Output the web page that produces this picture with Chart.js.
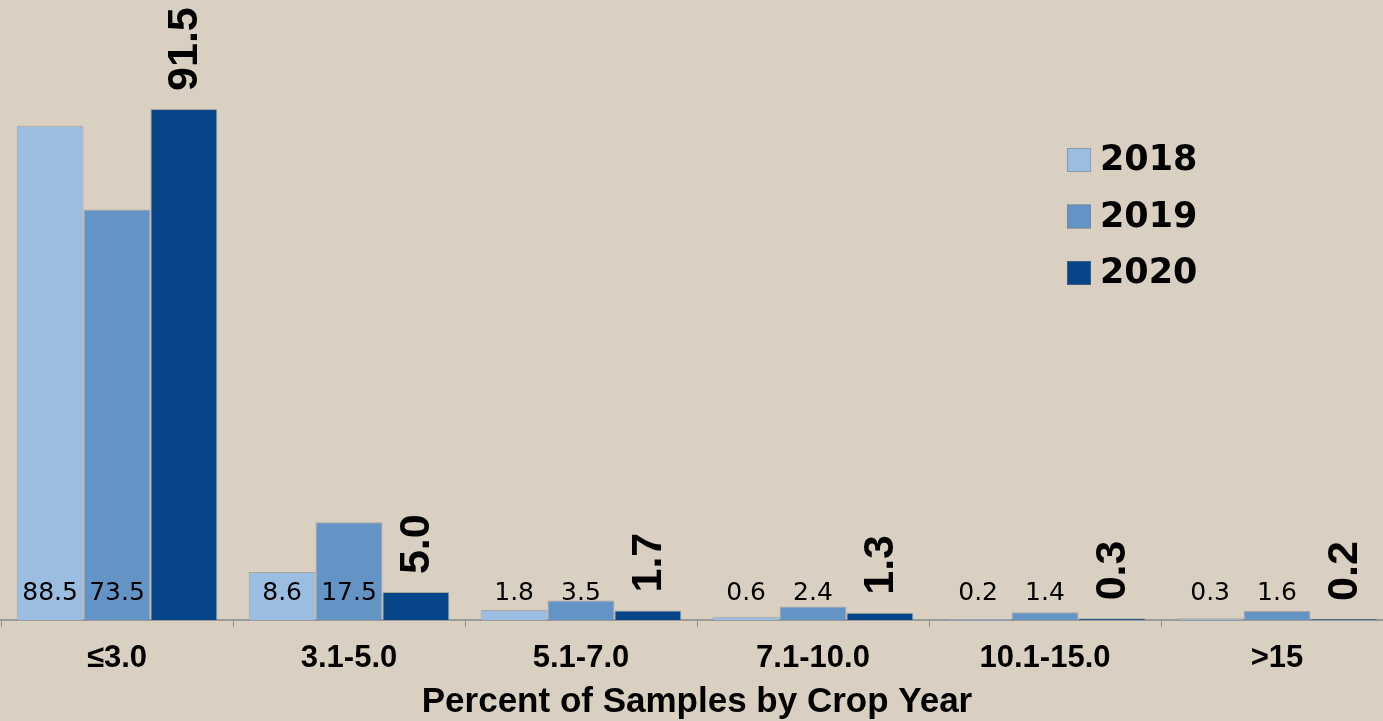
<!DOCTYPE html>
<html>
<head>
<meta charset="utf-8">
<script src="https://cdn.jsdelivr.net/npm/chart.js@4"></script>
<style>
  html, body { margin:0; padding:0; background:#d9d0c1; overflow:hidden; }
  #wrap { width:1395px; height:721px; position:relative; }
</style>
</head>
<body>
<div id="wrap"><canvas id="crop_chart"></canvas></div>
<script>
var categories = ['\u22643.0', '3.1-5.0', '5.1-7.0', '7.1-10.0', '10.1-15.0', '>15'];
var years = ['2018', '2019', '2020'];
var values2018 = [88.5, 8.6, 1.8, 0.6, 0.2, 0.3];
var values2019 = [73.5, 17.5, 3.5, 2.4, 1.4, 1.6];
var values2020 = [91.5, 5.0, 1.7, 1.3, 0.3, 0.2];
var colors = ['#9bbde2', '#6394c5', '#064587'];

// value labels: small ones sit on the axis, 2020 ones are rotated above the bar
var valueLabels = {
    id: 'valueLabels',
    afterDatasetsDraw: function(chart){
        var ctx = chart.ctx;
        var base = chart.scales.y.getPixelForValue(0);
        ctx.save();
        ctx.fillStyle = '#000';
        chart.data.datasets.forEach(function(ds, i){
            var meta = chart.getDatasetMeta(i);
            meta.data.forEach(function(bar, j){
                var txt = ds.data[j].toFixed(1);
                if(i < 2){
                    ctx.font = '25px "DejaVu Sans"';
                    ctx.textAlign = 'center';
                    ctx.textBaseline = 'middle';
                    ctx.fillText(txt, bar.x, base - 27);
                } else {
                    ctx.save();
                    ctx.translate(bar.x + 1, bar.y - 18);
                    ctx.rotate(-Math.PI / 2);
                    ctx.font = 'bold 43px "Liberation Sans"';
                    ctx.textAlign = 'left';
                    ctx.textBaseline = 'middle';
                    ctx.fillText(txt, 0, 0);
                    ctx.restore();
                }
            });
        });
        ctx.restore();
    }
};

// legend drawn inside the plot on the right
var insideLegend = {
    id: 'insideLegend',
    afterDraw: function(chart){
        var ctx = chart.ctx;
        ctx.save();
        chart.data.datasets.forEach(function(ds, i){
            var cy = 160 + i * 56.5;
            ctx.fillStyle = ds.backgroundColor;
            ctx.fillRect(1067, cy - 12, 24, 24);
            ctx.strokeStyle = 'rgba(120,120,120,0.5)';
            ctx.lineWidth = 1;
            ctx.strokeRect(1067.5, cy - 11.5, 23, 23);
            ctx.fillStyle = '#000';
            ctx.font = 'bold 35px "DejaVu Sans"';
            ctx.textAlign = 'left';
            ctx.textBaseline = 'middle';
            ctx.fillText(ds.label, 1100, cy + 1);
        });
        ctx.restore();
    }
};

var series = [values2018, values2019, values2020];
var datasets = [];
for(var i = 0; i < years.length; i++){
    datasets.push({
        label: years[i],
        data: series[i],
        backgroundColor: colors[i],
        borderColor: 'rgba(110,110,110,0.45)',
        borderWidth: 1,
        categoryPercentage: 0.865,
        barPercentage: 1.0
    });
}

var chart = new Chart(document.getElementById('crop_chart'), {
    type: 'bar',
    data: { labels: categories, datasets: datasets },
    options: {
        responsive: true,
        maintainAspectRatio: false,
        animation: false,
        devicePixelRatio: 1,
        layout: { padding: { left: 1, right: 2, top: 0, bottom: 0 } },
        plugins: {
            legend: { display: false },
            tooltip: { enabled: false }
        },
        scales: {
            y: { display: false, min: 0, max: 111 },
            x: {
                afterFit: function(scale){ scale.height = 101; },
                border: { display: true, color: '#9a9a9a', width: 2 },
                grid: {
                    display: true,
                    offset: true,
                    drawOnChartArea: false,
                    drawTicks: true,
                    tickLength: 7,
                    color: '#8f8f8f',
                    lineWidth: 1
                },
                ticks: {
                    color: '#000',
                    padding: 13,
                    font: { family: '"Liberation Sans"', size: 31, weight: 'bold', lineHeight: 1.2 }
                },
                title: {
                    display: true,
                    text: 'Percent of Samples by Crop Year',
                    color: '#000',
                    padding: { top: 0, bottom: 1 },
                    font: { family: '"Liberation Sans"', size: 35, weight: 'bold', lineHeight: 1 }
                }
            }
        }
    },
    plugins: [valueLabels, insideLegend]
});
</script>
</body>
</html>
